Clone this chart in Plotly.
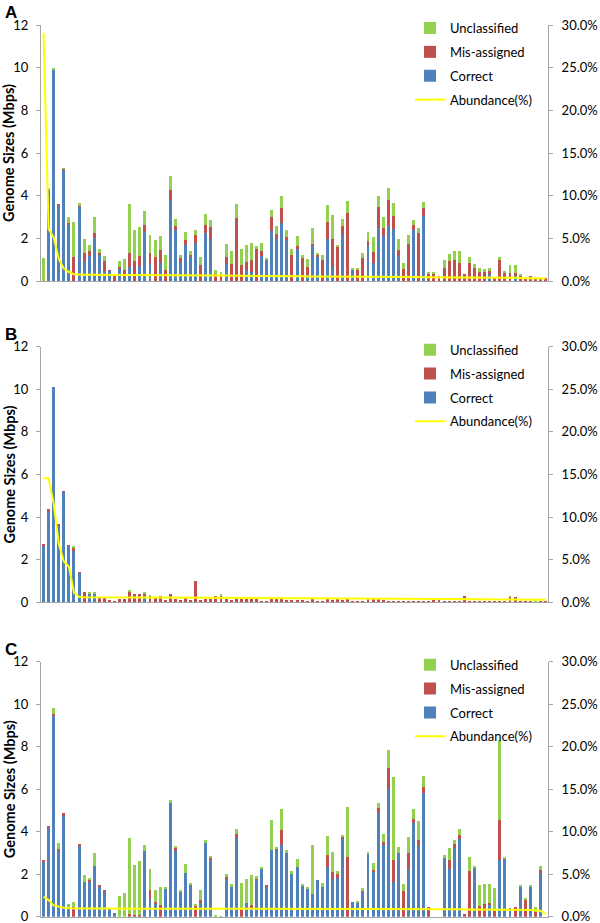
import plotly.graph_objects as go

# ---------------- data ----------------
categories = list(range(100))

A_correct = [0, 4.3, 9.9, 3.55, 5.22, 2.61, 0, 3.48, 0.89, 1.17,
             2.02, 1.24, 0.45, 0.47, 0, 0.6, 0.2, 0.66, 0, 0.7,
             2.3, 0.81, 0, 0.86, 0, 3.79, 2.41, 0.89, 1.67, 1.13,
             1.78, 0, 2.25, 1.96, 0, 0, 0.81, 0, 0, 0,
             0.53, 0.42, 0, 1.17, 0.98, 2.35, 1.96, 2.72, 1.94, 0,
             1.52, 0, 0.27, 1.64, 1.13, 0, 1.96, 0.66, 0, 2.18,
             0, 0.53, 0, 0, 1.64, 0.85, 2.49, 2.1, 2.57, 2.44,
             1.16, 0, 0, 2.41, 0, 3.04, 0, 0, 0, 0,
             0, 0, 0, 0, 0, 0, 0, 0, 0.34, 0,
             0, 0, 0, 0.22, 0, 0, 0, 0, 0, 0]
A_mis = [0, 0, 0, 0.05, 0.03, 0.1, 1.13, 0.03, 0.42, 0.23,
         0.23, 0.08, 0.5, 0.03, 0.25, 0.05, 0.3, 0.67, 0.92, 0.45,
         0.31, 0.5, 1.13, 0.58, 0.53, 0.47, 0.16, 0.2, 0.23, 0.08,
         0.36, 0.77, 0.36, 0.55, 0.31, 0.27, 0.31, 0.78, 2.97, 0.74,
         0.36, 0.55, 1.52, 0.22, 0, 0.64, 0.23, 0.69, 0.11, 1.2,
         0.14, 1.06, 0.37, 0.11, 0.09, 1.0, 0.81, 1.31, 1.6, 0.41,
         3.19, 0, 0.53, 1.08, 0.23, 0.52, 0.99, 0.39, 1.22, 0.59,
         0.28, 0.58, 1.75, 0.2, 2.27, 0.38, 0.31, 0.34, 0.22, 0.61,
         0.92, 0.99, 0.85, 0.31, 0.86, 0.63, 0.42, 0.42, 0.13, 0.19,
         0.99, 0.38, 0.38, 0.16, 0.27, 0.16, 0.25, 0.16, 0.16, 0.14]
A_unc = [1.08, 0.07, 0.05, 0, 0.02, 0.28, 1.63, 0.15, 0.66, 0.31,
         0.73, 0.2, 0.22, 0, 0, 0.29, 0.55, 2.27, 1.49, 1.38,
         0.67, 0.85, 0.81, 0.66, 0.7, 0.67, 0.33, 0.14, 0.38, 0.2,
         0.27, 0.36, 0.55, 0.34, 0.19, 0.13, 0.63, 0.63, 0.63, 0.78,
         0.81, 0.83, 0.11, 0.39, 0.12, 0.36, 0.41, 0.56, 0.33, 0.32,
         0.44, 0.14, 0.38, 0.75, 0.09, 0.22, 0.78, 1.11, 0.08, 0.33,
         0.56, 0.07, 0.07, 0.23, 0.45, 0.67, 0.5, 0.52, 0.55, 0.63,
         0.55, 0.27, 0.42, 0.23, 0.23, 0.28, 0.11, 0.05, 0, 0.39,
         0.36, 0.41, 0.55, 0, 0.25, 0.19, 0.19, 0.14, 0.16, 0,
         0.12, 0.05, 0.36, 0.39, 0.03, 0, 0, 0, 0, 0]
A_abund = [29.1, 6.1, 5.1, 2.6, 1.45, 1.05, 0.8, 0.74, 0.73, 0.72,
           0.72, 0.72, 0.71, 0.71, 0.71, 0.7, 0.7, 0.7, 0.7, 0.69,
           0.69, 0.69, 0.68, 0.68, 0.68, 0.67, 0.67, 0.67, 0.66, 0.66,
           0.66, 0.65, 0.65, 0.64, 0.64, 0.63, 0.63, 0.62, 0.62, 0.61,
           0.61, 0.6, 0.6, 0.59, 0.59, 0.58, 0.58, 0.57, 0.56, 0.56,
           0.55, 0.55, 0.54, 0.54, 0.53, 0.53, 0.52, 0.52, 0.51, 0.51,
           0.5, 0.5, 0.5, 0.49, 0.49, 0.49, 0.48, 0.48, 0.48, 0.47,
           0.47, 0.47, 0.46, 0.46, 0.46, 0.45, 0.45, 0.45, 0.44, 0.44,
           0.44, 0.43, 0.43, 0.42, 0.42, 0.41, 0.41, 0.4, 0.4, 0.39,
           0.39, 0.38, 0.38, 0.37, 0.36, 0.35, 0.34, 0.33, 0.31, 0.3]

B_correct = [2.68, 4.24, 10.1, 3.64, 5.22, 2.66, 2.39, 1.4, 0, 0.43,
             0.45, 0, 0, 0, 0, 0, 0, 0, 0, 0,
             0.3, 0, 0, 0, 0, 0, 0, 0, 0, 0,
             0, 0, 0, 0, 0, 0, 0, 0, 0, 0,
             0, 0, 0, 0, 0, 0, 0, 0, 0, 0,
             0, 0, 0, 0, 0, 0, 0, 0, 0, 0,
             0, 0, 0, 0, 0, 0, 0, 0, 0, 0,
             0, 0, 0, 0, 0, 0, 0, 0, 0, 0,
             0, 0, 0, 0, 0, 0, 0, 0, 0, 0,
             0, 0, 0, 0, 0, 0, 0, 0, 0, 0]
B_mis = [0.04, 0.12, 0, 0.02, 0.01, 0.02, 0.19, 0.01, 0.5, 0,
         0, 0.23, 0.19, 0.11, 0.03, 0.14, 0.17, 0.52, 0.38, 0.39,
         0.15, 0.31, 0.2, 0.3, 0.13, 0.39, 0.17, 0.11, 0.19, 0.11,
         1.0, 0.11, 0.17, 0.17, 0.31, 0.31, 0.17, 0.11, 0.2, 0.17,
         0.17, 0.17, 0.14, 0.08, 0.08, 0.17, 0.17, 0.17, 0.11, 0.11,
         0.11, 0.11, 0.08, 0.14, 0.05, 0.08, 0.14, 0.11, 0.14, 0.11,
         0.14, 0.08, 0.08, 0.08, 0.14, 0.14, 0.17, 0.11, 0.08, 0.05,
         0.05, 0.05, 0.08, 0.05, 0.05, 0.05, 0.08, 0.14, 0.14, 0.03,
         0.05, 0.03, 0.03, 0.3, 0.05, 0.03, 0.03, 0.05, 0.03, 0.03,
         0.05, 0.03, 0.27, 0.27, 0.03, 0.03, 0.03, 0.03, 0.03, 0.03]
B_unc = [0, 0, 0, 0, 0, 0, 0.06, 0, 0, 0.03,
         0.03, 0, 0, 0, 0, 0, 0, 0.04, 0, 0,
         0.04, 0.03, 0, 0, 0, 0, 0, 0, 0, 0,
         0, 0, 0, 0, 0, 0.05, 0, 0, 0.04, 0,
         0, 0, 0, 0, 0, 0, 0, 0, 0, 0,
         0, 0, 0, 0, 0, 0, 0, 0, 0, 0,
         0, 0, 0, 0, 0, 0, 0, 0, 0, 0,
         0, 0, 0, 0, 0, 0, 0, 0, 0, 0,
         0, 0, 0, 0, 0, 0, 0, 0, 0, 0,
         0, 0, 0.03, 0, 0, 0, 0, 0.05, 0, 0]
B_abund = [14.55, 14.55, 11.6, 6.9, 4.8, 4.2, 1.13, 0.66, 0.6, 0.59,
           0.59, 0.59, 0.58, 0.58, 0.58, 0.58, 0.57, 0.57, 0.57, 0.57,
           0.56, 0.56, 0.56, 0.56, 0.55, 0.55, 0.55, 0.55, 0.54, 0.54,
           0.54, 0.54, 0.53, 0.53, 0.53, 0.53, 0.52, 0.52, 0.52, 0.51,
           0.51, 0.51, 0.5, 0.5, 0.5, 0.5, 0.49, 0.49, 0.49, 0.48,
           0.48, 0.48, 0.47, 0.47, 0.47, 0.46, 0.46, 0.46, 0.45, 0.45,
           0.45, 0.44, 0.44, 0.44, 0.43, 0.43, 0.43, 0.42, 0.42, 0.42,
           0.41, 0.41, 0.41, 0.4, 0.4, 0.4, 0.39, 0.39, 0.39, 0.38,
           0.38, 0.38, 0.37, 0.37, 0.37, 0.36, 0.36, 0.36, 0.35, 0.35,
           0.35, 0.34, 0.34, 0.34, 0.33, 0.33, 0.32, 0.32, 0.31, 0.3]

C_correct = [2.62, 4.2, 9.46, 3.15, 4.78, 0.35, 0, 3.37, 1.65, 1.69,
             2.38, 1.45, 1.21, 0.42, 0.19, 0, 0, 0, 0, 0,
             3.07, 0.85, 0.6, 0, 1.32, 5.41, 3.14, 1.21, 2.04, 1.52,
             0, 0.63, 3.48, 2.7, 0, 0, 1.79, 1.38, 3.69, 0,
             0.66, 0.47, 1.77, 2.23, 1.44, 3.14, 3.17, 3.36, 3.01, 2.02,
             2.34, 1.46, 1.29, 1.05, 1.73, 1.41, 2.32, 1.76, 1.84, 3.66,
             0, 0.69, 0.67, 1.21, 2.95, 2.15, 4.86, 3.37, 5.99, 1.65,
             3.01, 0, 2.24, 4.42, 3.34, 5.8, 0, 0, 0, 2.82,
             2.23, 3.23, 3.66, 0, 0, 2.27, 0, 0, 0.55, 0,
             2.67, 2.73, 0.39, 0, 1.41, 0, 1.44, 0, 2.04, 0]
C_mis = [0.05, 0.08, 0.08, 0.05, 0.08, 0, 0.47, 0.02, 0, 0.06,
         0, 0.03, 0.06, 0, 0, 0, 0, 0.13, 0.08, 0.08,
         0, 0.41, 0.11, 0.53, 0, 0, 0.08, 0, 0, 0,
         0.5, 0.16, 0, 0.08, 0, 0.02, 0.06, 0, 0.2, 0.35,
         0, 0.08, 0.06, 0, 0.05, 0, 0.06, 0.72, 0, 0,
         0, 0, 0, 0, 0, 0, 0.58, 0.33, 0.17, 0.11,
         2.82, 0, 0, 0.06, 0, 0.06, 0.24, 0.14, 1.02, 1.02,
         0, 1.21, 0.78, 0.2, 0.27, 0.31, 0.47, 0, 0, 0,
         0.44, 0.19, 0.19, 0.13, 2.16, 0, 0.5, 0.58, 0.11, 0.27,
         1.88, 0, 0, 0.47, 0, 0.82, 0, 0.2, 0.16, 0]
C_unc = [0, 0, 0.27, 0.25, 0, 0.25, 0.22, 0, 0.3, 0.05,
         0.6, 0, 0, 0, 0, 0.97, 1.11, 3.56, 2.37, 2.56,
         0.3, 0.97, 0.53, 0.87, 0.08, 0.09, 0.11, 0.04, 0.42, 0.05,
         0.1, 0.47, 0.13, 0.09, 0.08, 0.01, 0.16, 0.14, 0.25, 1.25,
         1.13, 1.41, 0.08, 0.12, 0, 1.41, 0.06, 0.99, 0.13, 0.11,
         0.36, 0.08, 0.11, 2.31, 0, 0.16, 0.91, 0.94, 0.12, 0.05,
         2.35, 0, 0.05, 0.06, 0.11, 0.31, 0.27, 0.38, 0.83, 3.92,
         0.28, 0.33, 0.71, 0.47, 0.88, 0.52, 0, 0, 0, 0.07,
         0.56, 0.19, 0.28, 0, 0.63, 0.11, 0.99, 0.94, 0.86, 1.06,
         3.76, 0.06, 0, 0, 0.1, 0.07, 0.07, 0.27, 0.19, 0]
C_abund = [2.35, 1.96, 1.33, 1.18, 1.06, 1.0, 0.98, 0.97, 0.97, 0.97,
           0.97, 0.97, 0.96, 0.96, 0.96, 0.96, 0.96, 0.96, 0.96, 0.95,
           0.95, 0.95, 0.95, 0.95, 0.95, 0.95, 0.95, 0.95, 0.94, 0.94,
           0.94, 0.94, 0.94, 0.94, 0.94, 0.94, 0.94, 0.93, 0.93, 0.93,
           0.93, 0.93, 0.93, 0.93, 0.93, 0.93, 0.92, 0.92, 0.92, 0.92,
           0.92, 0.92, 0.92, 0.92, 0.92, 0.91, 0.91, 0.91, 0.91, 0.91,
           0.91, 0.91, 0.9, 0.9, 0.9, 0.9, 0.9, 0.9, 0.9, 0.89,
           0.89, 0.89, 0.89, 0.89, 0.88, 0.88, 0.88, 0.88, 0.88, 0.87,
           0.87, 0.87, 0.87, 0.86, 0.86, 0.86, 0.86, 0.85, 0.85, 0.85,
           0.84, 0.84, 0.84, 0.83, 0.83, 0.82, 0.8, 0.77, 0.7, 0.3]

panel_labels = ["A", "B", "C"]
left_ticks = [0, 2, 4, 6, 8, 10, 12]
right_ticks = [0, 5, 10, 15, 20, 25, 30]
right_tick_labels = ["0.0%", "5.0%", "10.0%", "15.0%", "20.0%", "25.0%", "30.0%"]

# ---------------- styling ----------------
W, H = 600, 923
BLUE, RED, GREEN, YELLOW = "#4F81BD", "#C0504D", "#92D050", "#FFFF00"
AXCOL = "#A6A6A6"
FONT = "Lato"

def px(x):
    return x / W

def py(y):
    return 1 - y / H

# plot-area pixel geometry (top of 12 / bottom at 0) per panel
panel_px = [(25, 281), (346.7, 602.3), (661.7, 916.7)]
x_left, x_right = 41, 548

panels = [
    (A_correct, A_mis, A_unc, A_abund),
    (B_correct, B_mis, B_unc, B_abund),
    (C_correct, C_mis, C_unc, C_abund),
]

fig = go.Figure()
layout = dict(
    width=W, height=H,
    margin=dict(l=0, r=0, t=0, b=0, pad=0, autoexpand=False),
    paper_bgcolor="white", plot_bgcolor="white",
    barmode="stack", bargap=0.42,
    font=dict(family=FONT, size=13, color="#000000"),
    showlegend=True,
    annotations=[],
)

for i, (cor, mis, unc, ab) in enumerate(panels):
    n = i + 1
    xa = "x" if n == 1 else f"x{n}"
    yl_idx = 2 * i + 1
    yr_idx = 2 * i + 2
    yl = "y" if yl_idx == 1 else f"y{yl_idx}"
    yr = f"y{yr_idx}"
    leg = "legend" if n == 1 else f"legend{n}"

    for name, vals, col, rank in [("Correct", cor, BLUE, 3),
                                  ("Mis-assigned", mis, RED, 2),
                                  ("Unclassified", unc, GREEN, 1)]:
        fig.add_trace(go.Bar(
            x=categories, y=vals, name=name, marker_color=col,
            marker_line_width=0, xaxis=xa, yaxis=yl, legend=leg,
            legendrank=rank, legendgroup=f"{name}{n}"))
    fig.add_trace(go.Scatter(
        x=categories, y=ab, name="Abundance(%)", mode="lines",
        line=dict(color=YELLOW, width=2), xaxis=xa, yaxis=yr, legend=leg,
        legendrank=4, legendgroup=f"ab{n}"))

    top, bot = panel_px[i]
    dom_y = [py(bot), py(top)]
    xkey = "xaxis" if n == 1 else f"xaxis{n}"
    ylkey = "yaxis" if yl_idx == 1 else f"yaxis{yl_idx}"
    yrkey = f"yaxis{yr_idx}"
    layout[xkey] = dict(domain=[px(x_left), px(x_right)], range=[-0.5, 99.5],
                        anchor=yl, showticklabels=False, ticks="",
                        showline=True, linecolor=AXCOL, linewidth=1,
                        showgrid=False, zeroline=False, fixedrange=True,
                        automargin=False)
    layout[ylkey] = dict(domain=dom_y, range=[0, 12], tickvals=left_ticks,
                         anchor=xa, ticks="outside", ticklen=4, tickcolor=AXCOL,
                         showline=True, linecolor=AXCOL, linewidth=1,
                         showgrid=False, zeroline=False, automargin=False,
                         ticklabeloverflow="allow", ticklabelstandoff=5,
                         tickfont=dict(size=13, family=FONT))
    layout[yrkey] = dict(domain=dom_y, range=[0, 30], tickvals=right_ticks,
                         ticktext=right_tick_labels,
                         overlaying=yl, anchor=xa, side="right",
                         ticks="outside", ticklen=4, tickcolor=AXCOL,
                         showline=True, linecolor=AXCOL, linewidth=1,
                         showgrid=False, zeroline=False, automargin=False,
                         ticklabeloverflow="allow", ticklabelstandoff=6,
                         tickfont=dict(size=13, family=FONT))
    layout[leg] = dict(x=px(410), y=py(top - 12), xanchor="left", yanchor="top",
                       bgcolor="rgba(0,0,0,0)", tracegroupgap=4,
                       font=dict(size=13, family=FONT),
                       itemwidth=30)
    layout["annotations"].append(dict(
        text=f"<b>{panel_labels[i]}</b>", x=px(3), y=py(top - 24),
        xref="paper", yref="paper", xanchor="left", yanchor="top",
        showarrow=False, font=dict(size=17, family="Liberation Sans")))
    layout["annotations"].append(dict(
        text="<b>Genome Sizes (Mbps)</b>", textangle=-90,
        x=px(9), y=py((top + bot) / 2), xref="paper", yref="paper",
        xanchor="center", yanchor="middle", showarrow=False,
        font=dict(size=14.5, family=FONT)))

fig.update_layout(**layout)
fig.write_html("out.html", config={"displayModeBar": False},
               post_script="document.body.style.margin='0px';document.body.style.overflow='hidden';")
